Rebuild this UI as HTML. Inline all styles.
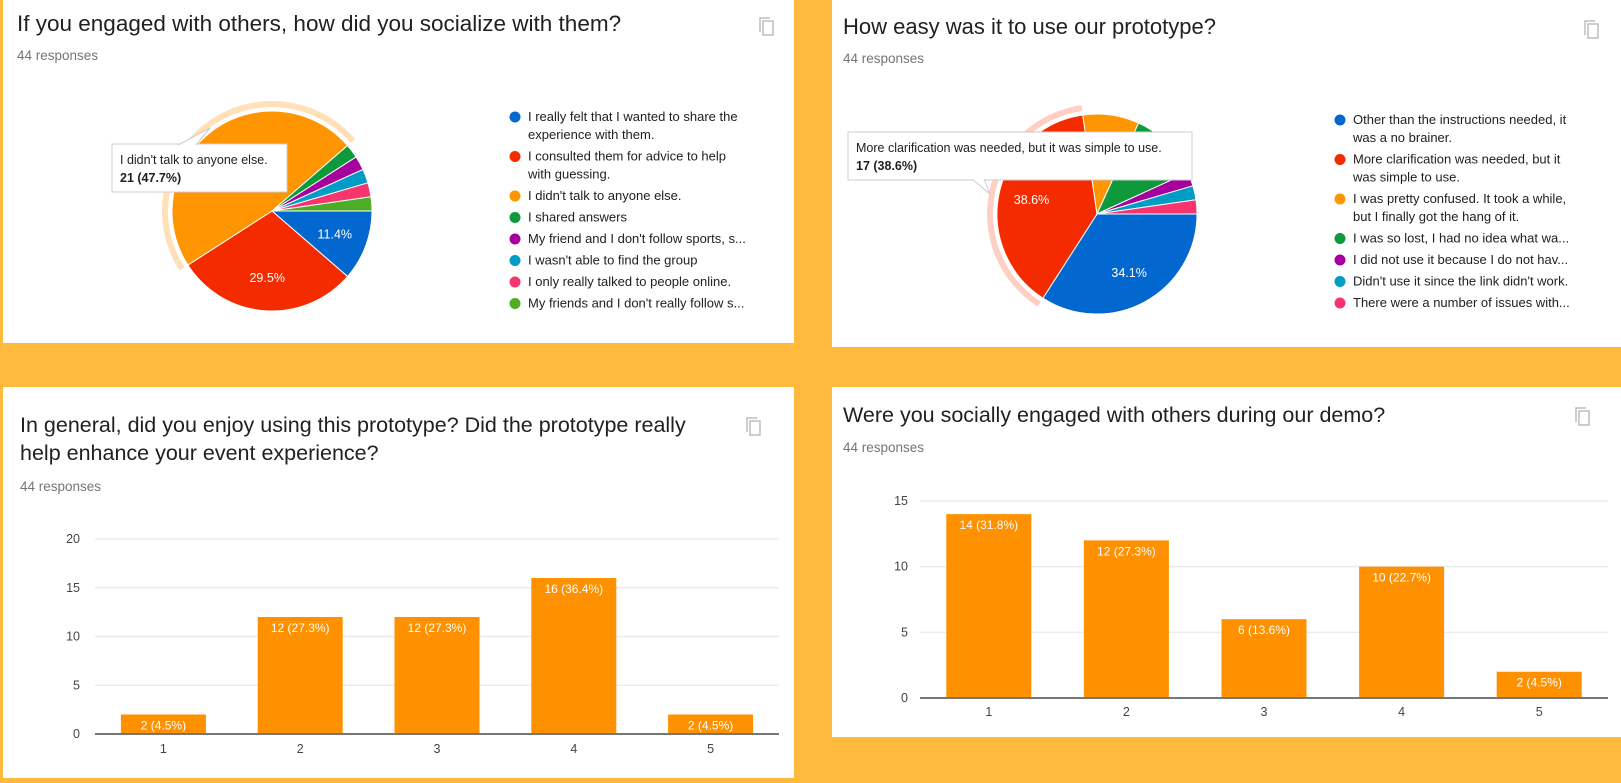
<!DOCTYPE html>
<html><head><meta charset="utf-8"><style>
html,body{margin:0;padding:0;background:#FFBA3E;}
svg{display:block;font-family:"Liberation Sans",Arial,sans-serif;}
</style></head><body>
<svg id="s" width="1621" height="783" viewBox="0 0 1621 783" xmlns="http://www.w3.org/2000/svg">
<rect x="0" y="0" width="1621" height="783" fill="#FFBA3E"/>
<rect x="3" y="0" width="791" height="343" fill="#fff"/>
<rect x="832" y="0" width="789" height="347" fill="#fff"/>
<rect x="3" y="387" width="791" height="391" fill="#fff"/>
<rect x="832" y="387" width="789" height="350" fill="#fff"/>
<text x="17" y="31" font-size="22.5" fill="#212121">If you engaged with others, how did you socialize with them?</text>
<text x="17" y="60" font-size="13.5" fill="#757575">44 responses</text>
<text x="843" y="34" font-size="22" fill="#212121">How easy was it to use our prototype?</text>
<text x="843" y="63" font-size="13.5" fill="#757575">44 responses</text>
<text x="20" y="432" font-size="21.5" fill="#212121">In general, did you enjoy using this prototype? Did the prototype really</text>
<text x="20" y="460" font-size="21.5" fill="#212121">help enhance your event experience?</text>
<text x="20" y="491" font-size="13.5" fill="#757575">44 responses</text>
<text x="843" y="422" font-size="21.5" fill="#212121">Were you socially engaged with others during our demo?</text>
<text x="843" y="452" font-size="13.5" fill="#757575">44 responses</text>
<g id="icons"></g>
<g id="pie1"></g><g id="pie2"></g><g id="bar1"></g><g id="bar2"></g>
</svg>
<script>
const pie1Labels=["I really felt that I wanted to share the|experience with them.","I consulted them for advice to help|with guessing.","I didn't talk to anyone else.","I shared answers","My friend and I don't follow sports, s...","I wasn't able to find the group","I only really talked to people online.","My friends and I don't really follow s..."];
const pie1Values=[5,13,21,1,1,1,1,1];
const pie1Colors=["#0367D0","#F52B00","#FF9500","#0E9A3A","#A5009E","#009CC6","#F7346E","#4DAE25"];
const pie2Labels=["Other than the instructions needed, it|was a no brainer.","More clarification was needed, but it|was simple to use.","I was pretty confused. It took a while,|but I finally got the hang of it.","I was so lost, I had no idea what wa...","I did not use it because I do not hav...","Didn't use it since the link didn't work.","There were a number of issues with..."];
const pie2Values=[15,17,4,5,1,1,1];
const pie2Colors=["#0367D0","#F52B00","#FF9500","#0E9A3A","#A5009E","#009CC6","#F7346E"];
const bar1Cats=["1","2","3","4","5"];
const bar1Values=[2,12,12,16,2];
const bar1Ticks=[0,5,10,15,20];
const bar2Cats=["1","2","3","4","5"];
const bar2Values=[14,12,6,10,2];
const bar2Ticks=[0,5,10,15];
const NS="http://www.w3.org/2000/svg";
function mk(p,t,a){const e=document.createElementNS(NS,t);for(const k in a)e.setAttribute(k,a[k]);p.appendChild(e);return e;}
function icon(x,y,n){const g=document.getElementById('icons');
 const r1=mk(g,'rect',{x:x,y:y,width:10,height:14,fill:'none',stroke:'#bdbdbd','stroke-width':1.5});
 
 
 mk(g,'path',{d:`M${x-3} ${y+11} V${y-3} H${x+7}`,fill:'none',stroke:'#bdbdbd','stroke-width':1.5});}
icon(763,21,'copy-chart-icon-socialize');icon(1588,24,'copy-chart-icon-ease');icon(750,421,'copy-chart-icon-enjoy');icon(1579,411,'copy-chart-icon-engaged');
function pie(gid,cx,cy,r,vals,cols,labels,hi,ringCol,pctShow,tip,lx,ly){
 const g=document.getElementById(gid);const tot=vals.reduce((a,b)=>a+b,0);let a=0;
 vals.forEach((v,i)=>{const a0=a,a1=a+v/tot*2*Math.PI;a=a1;
  const P=(ang,rr)=>[cx+rr*Math.cos(ang),cy+rr*Math.sin(ang)];
  const lg=(a1-a0)>Math.PI?1:0;
  if(i===hi){const [x0,y0]=P(a0,r+4),[x1,y1]=P(a1,r+4),[x2,y2]=P(a1,r+10),[x3,y3]=P(a0,r+10);
   const ring=mk(g,'path',{d:`M${x0} ${y0}A${r+4} ${r+4} 0 ${lg} 1 ${x1} ${y1}L${x2} ${y2}A${r+10} ${r+10} 0 ${lg} 0 ${x3} ${y3}Z`,fill:ringCol});
   
   }
  const [x0,y0]=P(a0,r),[x1,y1]=P(a1,r);
  const s=mk(g,'path',{d:`M${cx} ${cy}L${x0} ${y0}A${r} ${r} 0 ${lg} 1 ${x1} ${y1}Z`,fill:cols[i],stroke:'#fff','stroke-width':1});
  
  
  const pct=v/tot*100;
  if(pctShow.includes(i)){const m=(a0+a1)/2;const [tx,ty]=P(m,r*0.67);
   const t=mk(g,'text',{x:tx,y:ty+4,'text-anchor':'middle','font-size':12.5,fill:'#fff'});t.textContent=pct.toFixed(1)+'%';
   
   }
 });
 let y=ly;labels.forEach((L,i)=>{const parts=L.split('|');
  const c=mk(g,'circle',{cx:lx,cy:y-4,r:5.5,fill:cols[i]});
  
  
  parts.forEach((p,j)=>{const t=mk(g,'text',{x:lx+13,y:y+j*18,'font-size':13,fill:'#212121'});t.textContent=p;
   
   });
  y+= (parts.length-1)*18+21.5;});
 const tb=mk(g,'rect',{x:tip.x,y:tip.y,width:tip.w,height:48,fill:'#fff',stroke:'#ccc','stroke-width':1});
 
 
 mk(g,'path',{d:tip.arrow,fill:'#fff',stroke:'#ccc','stroke-width':1});
 mk(g,'rect',{x:tip.x+1,y:tip.y+1,width:tip.w-2,height:46,fill:'#fff'});
 const v=vals[hi];const t1=mk(g,'text',{x:tip.x+8,y:tip.y+20,'font-size':12.5,fill:'#212121'});t1.textContent=tip.text;
 
 
 const t2=mk(g,'text',{x:tip.x+8,y:tip.y+38,'font-size':12.5,'font-weight':'bold',fill:'#212121'});t2.textContent=v+' ('+(v/tot*100).toFixed(1)+'%)';
 
 
}
pie('pie1',272,211,100,pie1Values,pie1Colors,pie1Labels,2,'#FFE0B8',[0,1],{x:112,y:144,w:175,text:"I didn't talk to anyone else.",arrow:'M178 145 L210 128 L196 145'},515,121);
pie('pie2',1097,214,100,pie2Values,pie2Colors,pie2Labels,1,'#FFCFC4',[0,1],{x:848,y:132,w:344,text:"More clarification was needed, but it was simple to use.",arrow:'M972 179 L990 194 L984 179'},1340,124);
function bars(gid,vals,cats,ticks,L,R,Y0,Ytop,labY,tickX,maxv){
 const g=document.getElementById(gid);const ys=v=>Y0-(v/maxv)*(Y0-Ytop);
 ticks.forEach(t=>{const gl=mk(g,'line',{x1:L,x2:R,y1:ys(t),y2:ys(t),stroke:t===0?'#777':'#ebebeb','stroke-width':t===0?2:1.5});
  
  
  const tt=mk(g,'text',{x:tickX,y:ys(t)+4,'text-anchor':'end','font-size':12.5,fill:'#444'});tt.textContent=t;
  
  });
 const step=(R-L)/cats.length;const tot=vals.reduce((a,b)=>a+b,0);
 vals.forEach((v,i)=>{const cx=L+step*(i+0.5);const bw=85;
  const b=mk(g,'rect',{x:cx-bw/2,y:ys(v),width:bw,height:Y0-ys(v)-1,fill:'#FF9100'});
  
  
  const t=mk(g,'text',{x:cx,y:ys(v)+15,'text-anchor':'middle','font-size':12,fill:'#fff'});t.textContent=v+' ('+(v/tot*100).toFixed(1)+'%)';
  
  
  const x=mk(g,'text',{x:cx,y:labY,'text-anchor':'middle','font-size':12.5,fill:'#444'});x.textContent=cats[i];
  
  });
}
bars('bar1',bar1Values,bar1Cats,bar1Ticks,95,779,734,539,753,80,20);
bars('bar2',bar2Values,bar2Cats,bar2Ticks,920,1608,698,501,716,908,15);
</script>
</body></html>
